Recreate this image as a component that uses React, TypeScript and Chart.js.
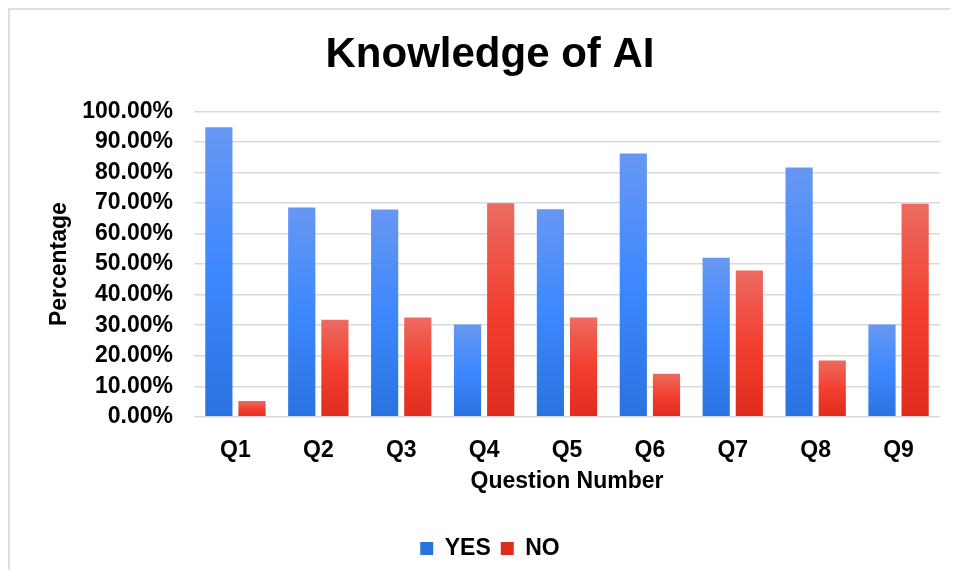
import React, { useEffect, useRef } from "react";
import { Chart, registerables } from "chart.js";

Chart.register(...registerables);

const categories = ["Q1", "Q2", "Q3", "Q4", "Q5", "Q6", "Q7", "Q8", "Q9"];
const yesValues = [94.8, 68.5, 67.9, 30.2, 68.0, 86.2, 52.1, 81.6, 30.2];
const noValues = [5.2, 31.8, 32.5, 69.9, 32.5, 14.1, 47.9, 18.4, 69.8];
const seriesNames = ["YES", "NO"];

const FONT = "'Liberation Sans', Arial, sans-serif";

const blueStops = ["#6797f2", "#3d88fe", "#2a72e0"];
const redStops = ["#ec6b60", "#f33f30", "#e02c1e"];

function gradientFill(stops: string[]) {
  return (ctx: any) => {
    const chart = ctx.chart;
    if (!chart.chartArea || ctx.type !== "data") return stops[1];
    const y = chart.scales.y;
    const top = y.getPixelForValue(ctx.raw);
    const bottom = y.getPixelForValue(0);
    if (!isFinite(top) || !isFinite(bottom) || bottom - top < 1) return stops[1];
    const g = chart.ctx.createLinearGradient(0, top, 0, bottom);
    g.addColorStop(0, stops[0]);
    g.addColorStop(0.5, stops[1]);
    g.addColorStop(1, stops[2]);
    return g;
  };
}

export default function App() {
  const ref = useRef<HTMLCanvasElement | null>(null);
  useEffect(() => {
    if (!ref.current) return;
    const chart = new Chart(ref.current, {
      type: "bar",
      data: {
        labels: categories,
        datasets: [
          {
            label: seriesNames[0],
            data: yesValues,
            backgroundColor: gradientFill(blueStops),
            barPercentage: 0.82,
            categoryPercentage: 0.8,
          },
          {
            label: seriesNames[1],
            data: noValues,
            backgroundColor: gradientFill(redStops),
            barPercentage: 0.82,
            categoryPercentage: 0.8,
          },
        ],
      },
      options: {
        responsive: false,
        animation: false,
        devicePixelRatio: 1,
        layout: { padding: { left: 40, right: 18, top: 9, bottom: 8 } },
        plugins: {
          title: {
            display: true,
            text: "Knowledge of AI",
            color: "#000",
            font: { family: FONT, size: 42, weight: "bold" },
            padding: { top: 21, bottom: 31 },
          },
          legend: {
            position: "bottom",
            labels: {
              color: "#000",
              font: { family: FONT, size: 23, weight: "bold" },
              boxWidth: 13,
              boxHeight: 13,
              padding: 10,
            },
          },
          tooltip: { enabled: false },
        },
        scales: {
          x: {
            grid: { display: false, drawTicks: false },
            border: { display: false },
            ticks: {
              color: "#000",
              font: { family: FONT, size: 23, weight: "bold" },
              padding: 20,
              autoSkip: false,
            },
            title: {
              display: true,
              text: "Question Number",
              color: "#000",
              font: { family: FONT, size: 23, weight: "bold" },
              padding: { top: -16.4, bottom: 31.4 },
            },
          },
          y: {
            min: 0,
            max: 100,
            grid: { color: "#d9d9d9", lineWidth: 1.5, drawTicks: false },
            border: { display: false },
            ticks: {
              stepSize: 10,
              autoSkip: false,
              color: "#000",
              font: { family: FONT, size: 23, weight: "bold" },
              padding: 21,
              callback: (v: any) => Number(v).toFixed(2) + "%",
            },
            title: {
              display: true,
              text: "Percentage",
              color: "#000",
              font: { family: FONT, size: 23, weight: "bold" },
              padding: { top: 6.2, bottom: -12.6 },
            },
          },
        },
      },
    });
    return () => chart.destroy();
  }, []);

  return (
    <div
      style={{
        margin: -8,
        width: 958,
        height: 578,
        position: "relative",
        overflow: "hidden",
        background: "#fff",
      }}
    >
      <div
        style={{
          position: "absolute",
          left: 8,
          top: 8,
          width: 2,
          height: 600,
          background: "#dedede",
        }}
      />
      <div
        style={{
          position: "absolute",
          left: 8,
          top: 8,
          width: 1000,
          height: 2,
          background: "#dedede",
        }}
      />
      <canvas
        ref={ref}
        width={958}
        height={578}
        style={{ position: "absolute", left: 0, top: 0, width: 958, height: 578 }}
      />
    </div>
  );
}
